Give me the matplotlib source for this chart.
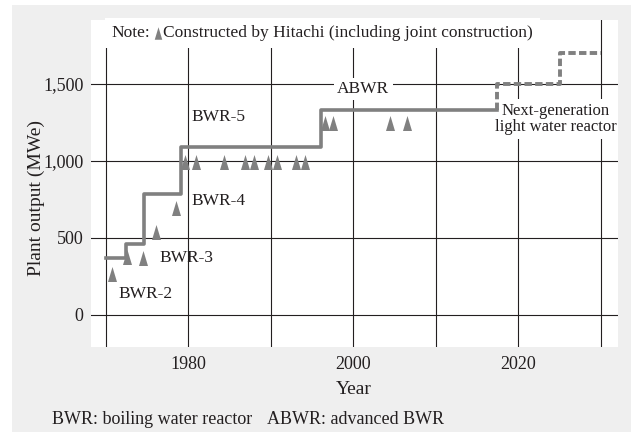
import matplotlib
matplotlib.use("Agg")
import matplotlib.pyplot as plt
from matplotlib.patches import Rectangle

plt.rcParams['font.family'] = ['Liberation Serif', 'DejaVu Serif']

# step line of plant output by reactor generation
step_years = [1970, 1972.4, 1974.6, 1979.1, 1996.1, 2017.4]
step_mwe = [372, 459, 786, 1093, 1331, 1331]
future_years = [2017.4, 2025, 2030]
future_mwe = [1331, 1500, 1700]

# plants constructed by Hitachi
plant_years = [1970.7, 1972.6, 1974.5, 1976.1, 1978.5,
               1979.6, 1980.9, 1984.3, 1986.9, 1988.0, 1989.6, 1990.7, 1993.0, 1994.1,
               1996.5, 1997.5, 2004.4, 2006.5]
plant_mwe = [264, 379, 372, 541, 693,
             995, 995, 995, 995, 995, 995, 995, 995, 995,
             1245, 1245, 1245, 1245]

y_ticks = [0, 500, 1000, 1500]
y_labels = ['0', '500', '1,000', '1,500']
x_ticks = [1980, 2000, 2020]
x_minor = [1970, 1990, 2010, 2030]

gray = '#808080'
ink = '#231f20'
fs = 12.5
tri = [(-0.3, -0.5), (0.3, -0.5), (0.0, 0.5)]

fig = plt.figure(figsize=(6.31, 4.32), dpi=100)
fig.patches.append(Rectangle((0.0185, 0), 0.9815, 0.988, transform=fig.transFigure,
                             facecolor='#efefef', edgecolor='none', zorder=-10))
ax = fig.add_axes([0.1437, 0.1975, 0.8353, 0.7562])
ax.set_facecolor('white')
for s in ax.spines.values():
    s.set_visible(False)

ax.set_xlim(1968.14, 2032.06)
ax.set_ylim(-206, 1915)
ax.set_xticks(x_ticks)
ax.set_xticks(x_minor, minor=True)
ax.set_yticks(y_ticks)
ax.set_yticklabels(y_labels)
ax.tick_params(which='both', length=0, labelsize=13, colors=ink)
ax.tick_params(axis='x', pad=7)
ax.tick_params(axis='y', pad=5)
ax.grid(which='both', color=ink, linewidth=0.8, zorder=0)
ax.set_axisbelow(True)

ax.step(step_years, step_mwe, where='post', color=gray, linewidth=2.6, zorder=6)
ax.step(future_years, future_mwe, where='pre', color=gray, linewidth=2.8,
        linestyle=(0, (1.9, 0.85)), zorder=6)
ax.plot(plant_years, plant_mwe, linestyle='none', marker=tri, markersize=10.8,
        color=gray, markeredgewidth=0, zorder=7)

ax.text(1970.7, 1831, 'Note:', fontsize=fs, color=ink, va='center', ha='left',
        bbox=dict(facecolor='white', edgecolor='none', pad=5), zorder=5)
ax.plot([1976.3], [1831], linestyle='none', marker=tri, markersize=9,
        color=gray, markeredgewidth=0, zorder=6)
ax.text(1976.9, 1831, 'Constructed by Hitachi (including joint construction)',
        fontsize=fs, color=ink, va='center', ha='left',
        bbox=dict(facecolor='white', edgecolor='none', pad=5), zorder=5)

ax.text(2001.2, 1467, 'ABWR', fontsize=fs, color=ink, ha='center', va='center',
        bbox=dict(facecolor='white', edgecolor='none', pad=2.5), zorder=5)
ax.text(2024.5, 1273, 'Next-generation\nlight water reactor', fontsize=12, color=ink,
        ha='center', va='center', linespacing=1.0, clip_on=True,
        bbox=dict(facecolor='white', edgecolor='none', pad=3), zorder=5)
ax.text(1980.4, 1286, 'BWR-5', fontsize=fs, color=ink, ha='left', va='center')
ax.text(1980.4, 740, 'BWR-4', fontsize=fs, color=ink, ha='left', va='center')
ax.text(1976.5, 372, 'BWR-3', fontsize=fs, color=ink, ha='left', va='center')
ax.text(1971.5, 136, 'BWR-2', fontsize=fs, color=ink, ha='left', va='center')

fig.text(354 / 631, 1 - 390 / 432, 'Year', fontsize=14, color=ink,
         ha='center', va='center')
fig.text(36.5 / 631, 1 - 198 / 432, 'Plant output (MWe)', fontsize=14, color=ink,
         ha='center', va='center', rotation=90)

fig.text(51.7 / 631, 1 - 420 / 432, 'BWR: boiling water reactor',
         fontsize=13, color=ink, ha='left', va='center')
fig.text(266.7 / 631, 1 - 420 / 432, 'ABWR: advanced BWR',
         fontsize=13, color=ink, ha='left', va='center')

fig.savefig('out.png', dpi=100)
